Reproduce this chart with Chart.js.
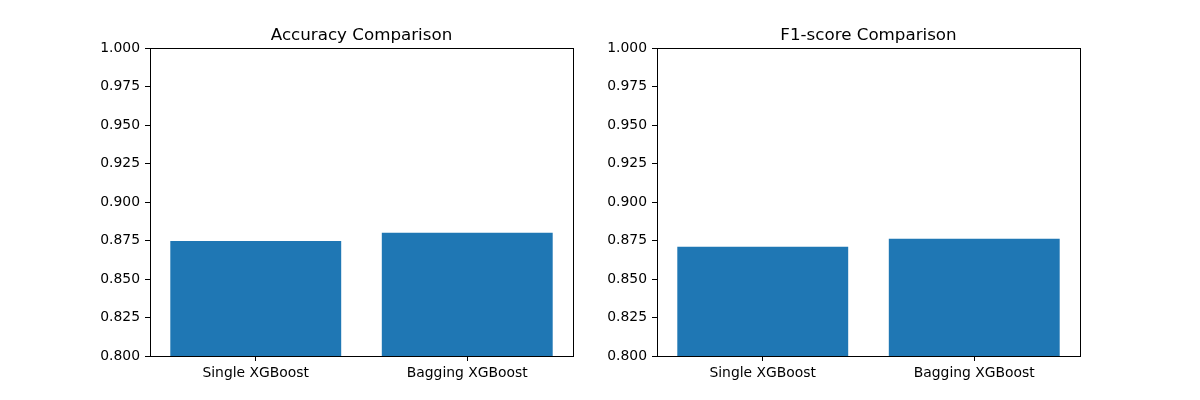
<!DOCTYPE html>
<html>
<head>
<meta charset="utf-8">
<script src="https://cdn.jsdelivr.net/npm/chart.js@4"></script>
<style>
  body { margin: 0; background: #fff; }
  #wrap { position: relative; width: 1200px; height: 400px; }
  .box { position: absolute; top: 0; width: 600px; height: 400px; }
</style>
</head>
<body>
<div id="wrap">
  <div class="box" style="left:0"><canvas id="accChart"></canvas></div>
  <div class="box" style="left:600px"><canvas id="f1Chart"></canvas></div>
</div>
<script>
const models = ['Single XGBoost', 'Bagging XGBoost']
const accuracy = [0.8747, 0.8800]
const f1score = [0.8709, 0.8762]
const yTicks = [0.800, 0.825, 0.850, 0.875, 0.900, 0.925, 0.950, 0.975, 1.000]

Chart.defaults.font.family = 'DejaVu Sans'
Chart.defaults.color = '#000'
Chart.defaults.animation = false

// black box around the plot area and a title centred over it, like matplotlib
const frame = {
  id: 'frame',
  afterDraw(chart, args, opts) {
    const a = chart.chartArea
    const ctx = chart.ctx
    ctx.save()
    ctx.strokeStyle = '#000'
    ctx.lineWidth = 1
    ctx.strokeRect(Math.round(a.left) + 0.5, Math.round(a.top) + 0.5,
      Math.round(a.right - a.left), Math.round(a.bottom - a.top))
    ctx.fillStyle = '#000'
    ctx.font = '16.7px "DejaVu Sans"'
    ctx.textAlign = 'center'
    ctx.textBaseline = 'alphabetic'
    ctx.fillText(opts.text, (a.left + a.right) / 2, a.top - 8)
    ctx.restore()
  }
}

function makeChart(el, title, values, yWidth, rightPad) {
  return new Chart(document.getElementById(el), {
    type: 'bar',
    data: {
      labels: models,
      datasets: [{
        data: values,
        backgroundColor: '#1f77b4',
        categoryPercentage: 1,
        barPercentage: 0.808
      }]
    },
    options: {
      responsive: false,
      maintainAspectRatio: false,
      layout: { padding: { top: 48, right: rightPad, bottom: 0, left: 0 } },
      plugins: {
        legend: { display: false },
        tooltip: { enabled: false },
        title: { display: false },
        frame: { text: title }
      },
      scales: {
        x: {
          grid: { display: true, drawOnChartArea: false, tickLength: 5, color: '#000', offset: false },
          border: { color: '#000' },
          ticks: { font: { size: 13.9 }, padding: 4, maxRotation: 0 },
          afterFit(scale) { scale.height = 44 }
        },
        y: {
          min: 0.8,
          max: 1.0,
          grid: { display: true, drawOnChartArea: false, tickLength: 5, color: '#000' },
          border: { color: '#000' },
          ticks: {
            font: { size: 13.9 },
            padding: 5,
            callback: v => Number(v).toFixed(3)
          },
          afterBuildTicks(scale) { scale.ticks = yTicks.map(v => ({ value: v })) },
          afterFit(scale) { scale.width = yWidth }
        }
      }
    },
    plugins: [frame]
  })
}

document.querySelectorAll('canvas').forEach(c => { c.width = 600; c.height = 400 })
makeChart('accChart', 'Accuracy Comparison', accuracy, 150, 27)
makeChart('f1Chart', 'F1-score Comparison', f1score, 57, 120)
</script>
</body>
</html>
